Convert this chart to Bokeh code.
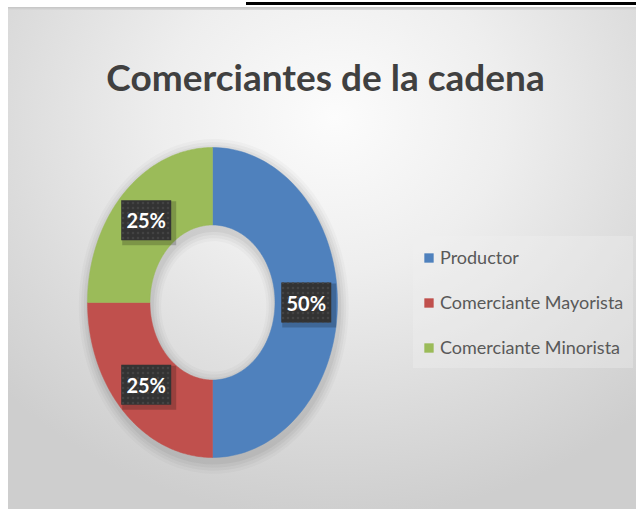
import numpy as np
from bokeh.plotting import figure
from bokeh.models import Range1d, Label, Legend, LegendItem, ColumnDataSource
from bokeh.embed import file_html
from bokeh.resources import INLINE
from bokeh.core.properties import value

# ---- data ----
title_text = "Comerciantes de la cadena"
categories = ["Productor", "Comerciante Mayorista", "Comerciante Minorista"]
shares = [50, 25, 25]
colors = ["#4F81BD", "#C0504D", "#9BBB59"]

# ---- layout constants ----
W, H = 636, 509
CX, CY = 212, 302          # donut centre in pixels (from top-left)
RX, RY = 125, 155          # outer radii in pixels (chart is stretched vertically)
INNER = 0.5
FONT = "Lato"

p = figure(width=W, height=H, output_backend="svg", toolbar_location=None,
           x_range=Range1d(-CX / RX, (W - CX) / RX),
           y_range=Range1d(-(H - CY) / RY, CY / RY),
           x_axis_type=None, y_axis_type=None, min_border=0,
           outline_line_color=None)
p.grid.visible = False
p.background_fill_color = None
p.border_fill_color = None
p.styles = {
    "background": (
        "linear-gradient(#000,#000) 246px 2px / 400px 3px no-repeat, "
        "linear-gradient(#c4c4c4,#dadada) 8px 7px / 628px 3px no-repeat, "
        "radial-gradient(ellipse 72% 80% at 52% 22%, #fcfcfc 0%, #eeeeee 38%, "
        "#dcdcdc 72%, #cecece 100%) 8px 7px / 628px 502px no-repeat, #ffffff"
    )
}

def arc(r, a0, a1, n=120):
    t = np.linspace(a0, a1, n)
    return r * np.cos(t), r * np.sin(t)

# soft shadow rings behind the donut
for d, a in [(0.08, 0.025), (0.06, 0.03), (0.04, 0.035), (0.02, 0.045)]:
    ox, oy = arc(1 + d, 0, 2 * np.pi)
    ix, iy = arc(INNER - d, 2 * np.pi, 0)
    p.multi_polygons(xs=[[[list(ox + 0.01), list(ix + 0.01)]]],
                     ys=[[[list(oy - 0.025), list(iy - 0.025)]]],
                     fill_color="black", fill_alpha=a, line_alpha=0)

total = float(sum(shares))
cum = np.concatenate([[0.0], np.cumsum(shares) / total])
xs, ys, mids = [], [], []
for i in range(len(shares)):
    a0 = np.pi / 2 - 2 * np.pi * cum[i]
    a1 = np.pi / 2 - 2 * np.pi * cum[i + 1]
    ox, oy = arc(1.0, a0, a1)
    ix, iy = arc(INNER, a1, a0)
    xs.append(list(np.concatenate([ox, ix])))
    ys.append(list(np.concatenate([oy, iy])))
    mids.append((a0 + a1) / 2)

src = ColumnDataSource(dict(xs=xs, ys=ys, color=colors, name=categories))
wedges = p.patches("xs", "ys", source=src, fill_color="color", line_color="color",
                   line_width=0.5)

# data labels
rl = (1 + INNER) / 2
lx = [rl * np.cos(m) for m in mids]
ly = [rl * np.sin(m) for m in mids]
lbl = [f"{s / total * 100:.0f}%" for s in shares]
lsrc = ColumnDataSource(dict(x=lx, y=ly, t=lbl,
                             sx=[v + 3 / RX for v in lx], sy=[v - 3 / RY for v in ly]))
p.rect("sx", "sy", width=54, height=44, width_units="screen", height_units="screen",
       source=lsrc, fill_color="black", fill_alpha=0.2, line_alpha=0)
p.rect("x", "y", width=50, height=40, width_units="screen", height_units="screen",
       source=lsrc, fill_color="#333333", line_alpha=0,
       hatch_pattern="dot", hatch_color="#434343", hatch_scale=5, hatch_weight=1)
p.text("x", "y", text="t", source=lsrc, text_align="center", text_baseline="middle",
       text_color="white", text_font=value(FONT), text_font_style="bold",
       text_font_size="20px")

# title
p.add_layout(Label(x=325, y=H - 76, x_units="screen", y_units="screen",
                   text=title_text, text_align="center", text_baseline="alphabetic",
                   text_font=FONT, text_font_style="bold", text_font_size="37px",
                   text_color="#404040"))

legend = Legend(items=[LegendItem(label=c, renderers=[wedges], index=i)
                       for i, c in enumerate(categories)],
                location=(413, 141), orientation="vertical",
                padding=10, spacing=23, label_height=22, glyph_width=11, glyph_height=11,
                label_standoff=6, label_text_font=FONT, label_text_font_size="18px",
                label_text_color="#595959", background_fill_color="#f2f2f2",
                background_fill_alpha=0.35, border_line_alpha=0, margin=0)
p.add_layout(legend)

open("out.html", "w").write(file_html(p, INLINE))
